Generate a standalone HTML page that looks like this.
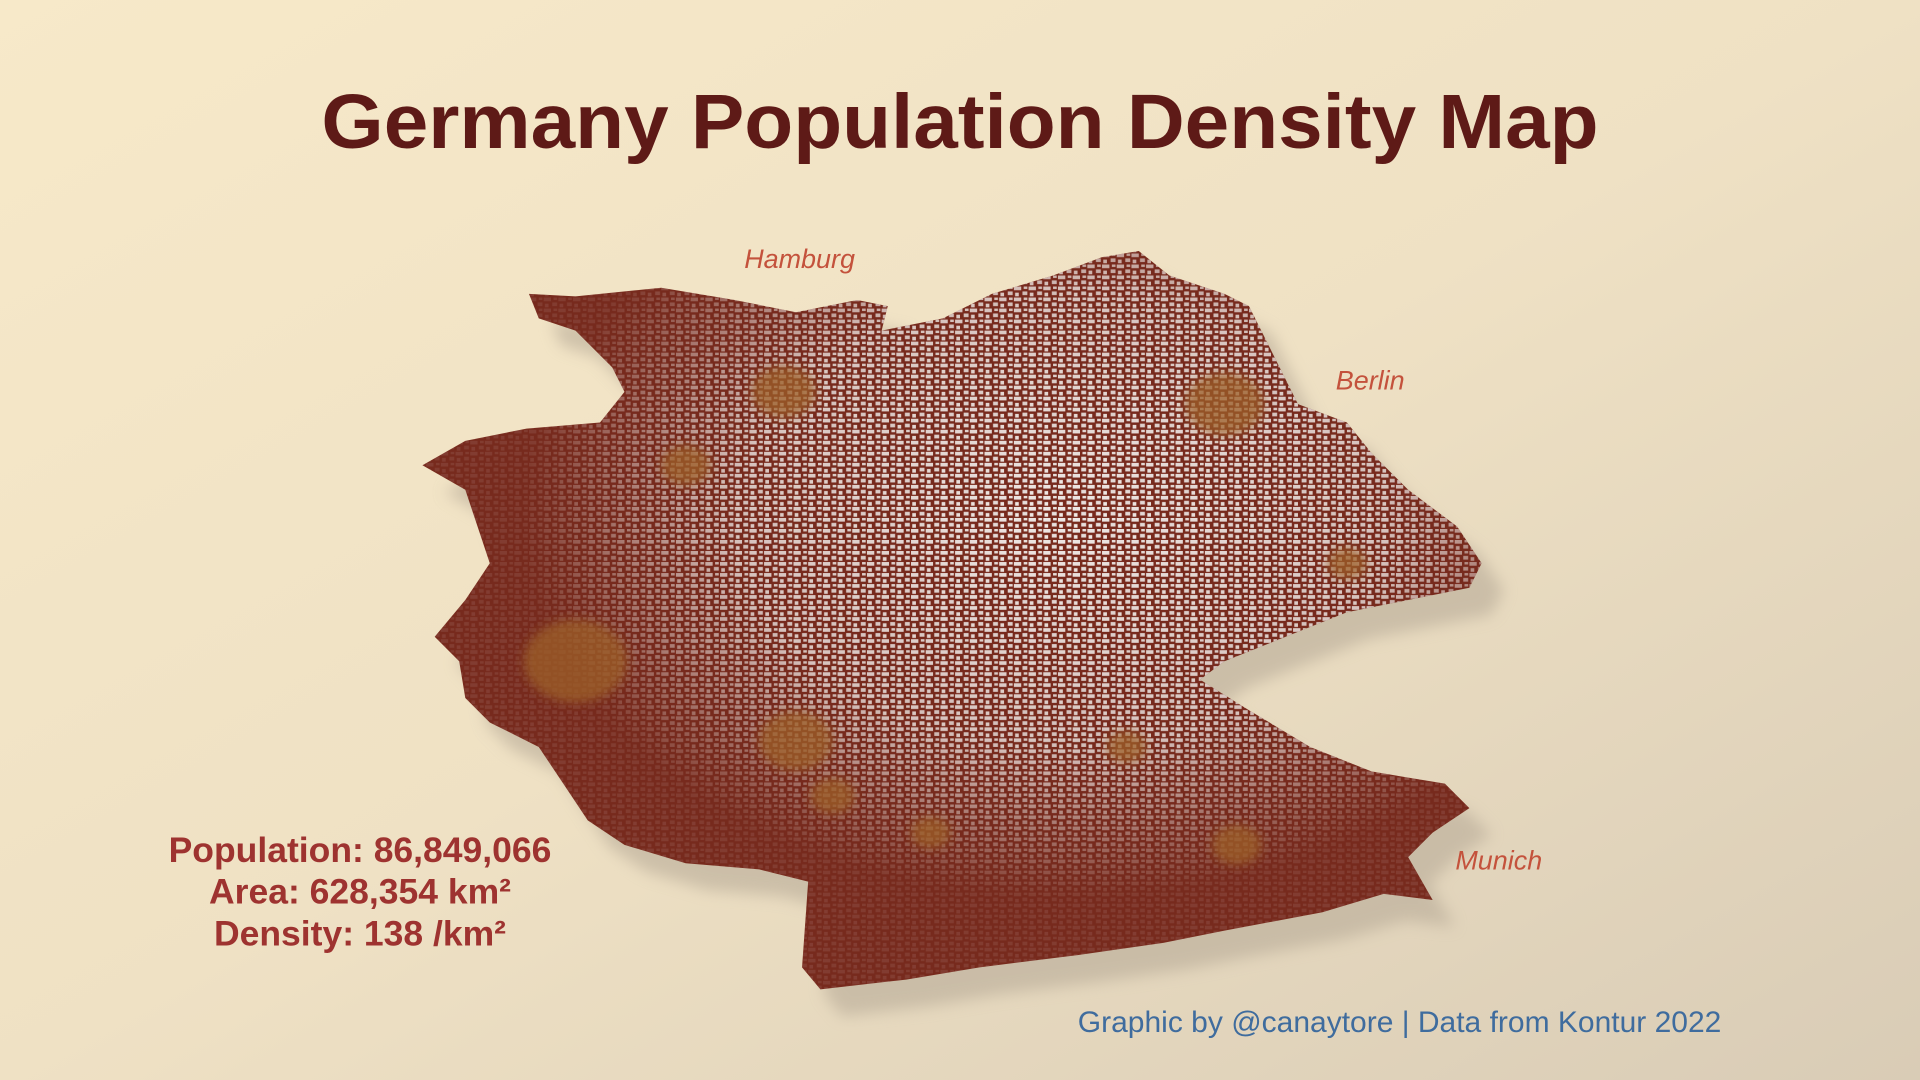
<!DOCTYPE html>
<html><head><meta charset="utf-8">
<style>
html,body{margin:0;padding:0;width:1920px;height:1080px;overflow:hidden;}
svg{display:block;}
text{font-family:"Liberation Sans",sans-serif;}
</style></head>
<body>
<svg width="1920" height="1080" viewBox="0 0 1568 882" xmlns="http://www.w3.org/2000/svg">
<defs>
<linearGradient id="bg" x1="0" y1="0" x2="1" y2="1">
<stop offset="0" stop-color="#f7e9c9"/><stop offset="0.5" stop-color="#efe1c4"/><stop offset="1" stop-color="#d9ccb6"/>
</linearGradient>
<pattern id="speck" width="12" height="9" patternUnits="userSpaceOnUse">
<rect x="0" y="0" width="6" height="3" fill="#efe9e6"/>
<rect x="7" y="4" width="4" height="3" fill="#e9e2df"/>
<rect x="1" y="5" width="3" height="3" fill="#f2ede9"/>
<rect x="8" y="0" width="3" height="2" fill="#ece6e2"/>
</pattern>
<radialGradient id="whiteMask" cx="0.6" cy="0.36" r="0.5">
<stop offset="0" stop-color="#fff" stop-opacity="1"/><stop offset="0.6" stop-color="#fff" stop-opacity="0.8"/><stop offset="1" stop-color="#fff" stop-opacity="0.1"/>
</radialGradient>
<mask id="m"><rect x="340" y="200" width="880" height="620" fill="url(#whiteMask)"/></mask>
<filter id="blur"><feGaussianBlur stdDeviation="6"/></filter>
<filter id="soft"><feGaussianBlur stdDeviation="4"/></filter>
<clipPath id="ger"><path id="gpath" d="M432,240 L470,242 540,235 600,245 650,255 700,245 725,250 720,270 770,260 810,240 860,225 900,210 930,205 955,225 1000,240 1020,250 1040,290 1060,330 1100,345 1120,370 1150,400 1190,430 1210,460 1200,480 1150,490 1100,500 1050,520 1000,540 980,555 1020,580 1070,610 1120,630 1180,640 1200,660 1170,680 1150,700 1170,735 1130,730 1080,745 1000,760 950,770 880,780 800,790 740,800 670,808 655,790 660,720 620,710 560,705 510,690 480,670 460,640 440,610 400,590 380,570 375,540 355,520 380,490 400,460 390,430 380,400 345,380 380,360 430,350 490,345 510,320 500,300 470,270 440,260 Z"/></clipPath>
</defs>
<rect width="1568" height="882" fill="url(#bg)"/>
<text x="784" y="121" text-anchor="middle" font-size="63" font-weight="bold" fill="#5e1a17" textLength="1043" lengthAdjust="spacingAndGlyphs">Germany Population Density Map</text>
<g>
<use href="#gpath" transform="translate(18,22)" fill="#b8ab98" opacity="0.6" filter="url(#blur)"/>
<use href="#gpath" fill="#772a1d"/>
<g clip-path="url(#ger)">
<rect x="340" y="200" width="880" height="620" fill="url(#speck)" mask="url(#m)"/>
<g id="cities" filter="url(#soft)"></g>
</g>
</g>
<text x="653" y="219" text-anchor="middle" font-size="22" font-style="italic" fill="#c4523c">Hamburg</text>
<text x="1119" y="318" text-anchor="middle" font-size="22" font-style="italic" fill="#c4523c">Berlin</text>
<text x="1224" y="710" text-anchor="middle" font-size="22" font-style="italic" fill="#c4523c">Munich</text>
<g font-size="29" font-weight="bold" fill="#9e3330" text-anchor="middle">
<text x="294" y="704">Population: 86,849,066</text>
<text x="294" y="738">Area: 628,354 km²</text>
<text x="294" y="772">Density: 138 /km²</text>
</g>
<text x="1143" y="843" text-anchor="middle" font-size="24.5" fill="#3f6c9e">Graphic by @canaytore | Data from Kontur 2022</text>
</svg>
<script>
const cityX=[1000,640,470,650,1010,680,560,1100,920,760];
const cityY=[330,320,540,605,690,650,380,460,610,680];
const cityR=[32,26,42,30,20,18,20,16,16,16];
const g=document.getElementById('cities');
for(let i=0;i<cityX.length;i++){
 const e=document.createElementNS('http://www.w3.org/2000/svg','ellipse');
 e.setAttribute('cx',cityX[i]);e.setAttribute('cy',cityY[i]);
 e.setAttribute('rx',cityR[i]);e.setAttribute('ry',cityR[i]*0.8);
 e.setAttribute('fill','#9c6028');e.setAttribute('opacity','0.75');
 
 
 g.appendChild(e);
}
</script>
</body></html>
